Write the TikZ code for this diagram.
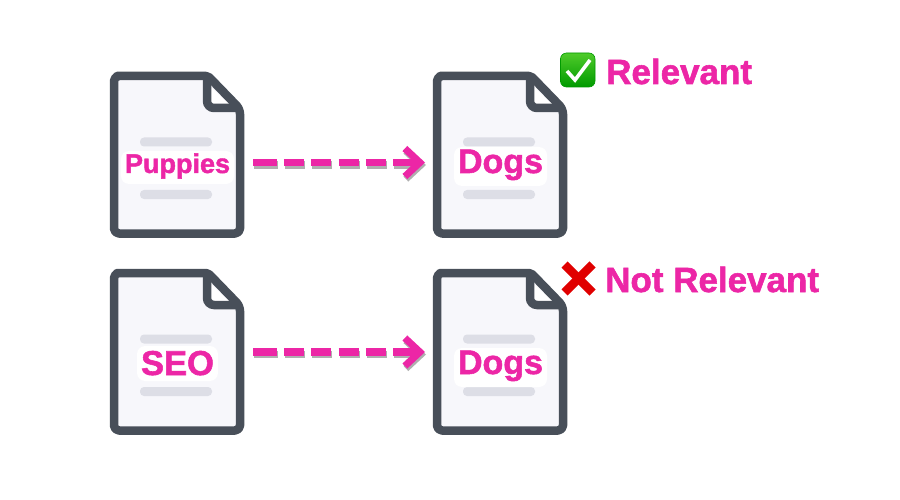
\documentclass[tikz,border=0pt]{standalone}
\usepackage{fontspec}
\setmainfont{Liberation Sans}
\newfontfamily\heavyfont[FakeBold=1.6]{Liberation Sans Bold}
\usetikzlibrary{arrows.meta,shapes.geometric}
\definecolor{inkgray}{HTML}{484F59}
\definecolor{paperfill}{HTML}{F7F7FB}
\definecolor{linegray}{HTML}{DDDEE6}
\definecolor{hotpink}{HTML}{EC26A6}
\definecolor{shadowgray}{HTML}{6E6E6E}
\definecolor{checktop}{HTML}{4FCB2A}
\definecolor{checkbottom}{HTML}{009A00}
\tikzset{
  x=1pt,y=-1pt,
  docbounds/.style={minimum width=134pt,minimum height=166pt,inner sep=0pt,outer sep=0pt},
  halolabel/.style={text=hotpink,fill=white,rounded corners=8pt,inner xsep=4pt,inner ysep=0pt,anchor=base},
  smalllabel/.style={halolabel,font=\heavyfont\fontsize{27}{30}\selectfont,text height=22pt,text depth=11pt},
  dogslabel/.style={halolabel,font=\heavyfont\fontsize{34}{38}\selectfont,text height=26pt,text depth=13pt},
  seolabel/.style={halolabel,font=\heavyfont\fontsize{34.5}{38}\selectfont,text height=29pt,text depth=6pt},
  sidelabel/.style={halolabel,font=\heavyfont\fontsize{35}{40}\selectfont,anchor=base west},
  flowpath/.style={line width=7.5pt,hotpink,
    dash pattern=on 24pt off 7pt on 20pt off 7.3pt on 20pt off 7.3pt on 20pt off 7.3pt on 20pt off 7.3pt on 80pt off 10pt,
    -{Straight Barb[length=15pt,width=28pt,line width=7pt]}},
  flowshadow/.style={flowpath,shadowgray,opacity=.55},
  docicon/.pic={
    \draw[inkgray,fill=paperfill,line width=8.5pt,line join=round]
      (9,4) [rounded corners=5pt] -- (4,4) -- (4,161.5) -- (130,161.5) -- (130,37) [rounded corners=2pt] -- (98,4) -- cycle;
    \fill[white] (100.5,14.5) -- (118.5,32) -- (100.5,32) -- cycle;
    \draw[inkgray,line width=8.5pt,rounded corners=7pt] (97,4) -- (97,36) -- (130,36);
    \fill[linegray,rounded corners=4pt] (30,65.5) rectangle (102,74.5);
    \fill[linegray,rounded corners=4pt] (30,118) rectangle (102,127);
  }
}
\begin{document}
\begin{tikzpicture}
\useasboundingbox (0,0) rectangle (900,500);
% documents
\pic at (110,72) {docicon};
\pic at (433,72) {docicon};
\pic at (110,269) {docicon};
\pic at (433,269) {docicon};
\node[docbounds] (doca) at (177,155) {};
\node[docbounds] (docb) at (500,155) {};
\node[docbounds] (docc) at (177,352) {};
\node[docbounds] (docd) at (500,352) {};
% arrows
\draw[flowshadow,transform canvas={shift={(1pt,-2.5pt)}}] ([xshift=9pt,yshift=-7.5pt]doca.east) -- ([xshift=-8pt,yshift=-7.5pt]docb.west);
\draw[flowpath] ([xshift=9pt,yshift=-7.5pt]doca.east) -- ([xshift=-8pt,yshift=-7.5pt]docb.west);
\draw[flowshadow,transform canvas={shift={(1pt,-2.5pt)}}] ([xshift=9pt]docc.east) -- ([xshift=-8pt]docd.west);
\draw[flowpath] ([xshift=9pt]docc.east) -- ([xshift=-8pt]docd.west);
% labels
\node[smalllabel] (puppies) at (177.5,173) {Puppies};
\node[dogslabel] (dogsa) at (500.5,173) {Dogs};
\node[seolabel] (seo) at (177.5,375) {SEO};
\node[dogslabel] (dogsb) at (500.5,374) {Dogs};
% check emoji
\shade[top color=checktop,bottom color=checkbottom,draw=checkbottom,line width=.6pt,rounded corners=6pt] (560.5,53) rectangle (595,87);
\draw[white,line width=3.6pt,line join=miter] (567,71) -- (575,80) -- (590,60);
\node[sidelabel] (relevant) at (602,84) {Relevant};
% cross emoji
\draw[red!88!black,line width=8.5pt] (564.5,264.5) -- (592.5,292.5);
\draw[red!88!black,line width=8.5pt] (592.5,264.5) -- (564.5,292.5);
\node[sidelabel] (notrelevant) at (601,292) {Not Relevant};
\end{tikzpicture}
\end{document}
